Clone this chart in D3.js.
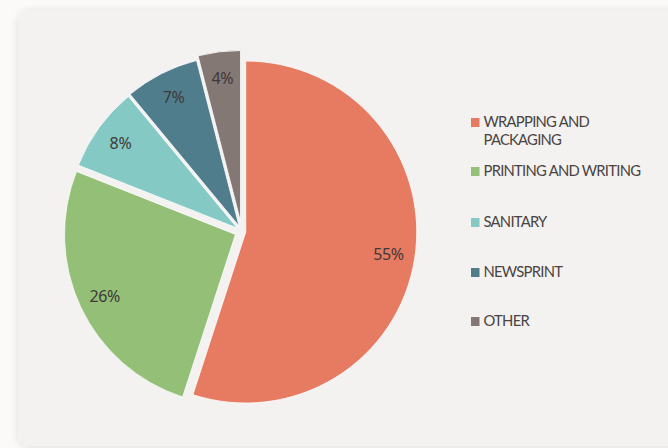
<!DOCTYPE html>
<html>
<head>
<meta charset="utf-8">
<script src="https://cdn.jsdelivr.net/npm/d3@7"></script>
<style>
  html, body { margin: 0; padding: 0; background: #fbfaf9; }
  svg { display: block; }
</style>
</head>
<body>
<svg id="chart" width="668" height="448"></svg>
<script>
// Paper consumption by grade (share of total, %)
const categories = ["WRAPPING AND PACKAGING", "PRINTING AND WRITING", "SANITARY", "NEWSPRINT", "OTHER"];
const shares = [55, 26, 8, 7, 4];
const legendLines = [["WRAPPING AND", "PACKAGING"], ["PRINTING AND WRITING"], ["SANITARY"], ["NEWSPRINT"], ["OTHER"]];

// Styling
const colors = ["#e77b61", "#93bf76", "#84c9c4", "#4f7d8c", "#847874"];
const explode = [4, 7, 5.5, 6, 10];   // radial pull-out of each wedge, px
const cx = 241.8, cy = 231.4, R = 171;

const svg = d3.select("#chart");

// card with a soft shadow
const defs = svg.append("defs");
const f = defs.append("filter").attr("id", "shadow")
  .attr("x", "-10%").attr("y", "-10%").attr("width", "120%").attr("height", "120%");
f.append("feGaussianBlur").attr("in", "SourceAlpha").attr("stdDeviation", 4).attr("result", "b");
f.append("feOffset").attr("in", "b").attr("dx", 0).attr("dy", 1).attr("result", "o");
f.append("feComponentTransfer").attr("in", "o").attr("result", "s")
  .append("feFuncA").attr("type", "linear").attr("slope", 0.12);
const m = f.append("feMerge");
m.append("feMergeNode").attr("in", "s");
m.append("feMergeNode").attr("in", "SourceGraphic");

svg.append("rect")
  .attr("x", 18).attr("y", 10)
  .attr("width", 720).attr("height", 436)
  .attr("rx", 12).attr("ry", 12)
  .attr("fill", "#f3f2f0")
  .attr("filter", "url(#shadow)");

// pie
const pie = d3.pie().sort(null).value(d => d).startAngle(0).endAngle(2 * Math.PI);
const arcs = pie(shares);
const arc = d3.arc().innerRadius(0).outerRadius(R);
const labelArc = d3.arc().innerRadius(R * 0.845).outerRadius(R * 0.845);

const g = svg.append("g").attr("transform", `translate(${cx},${cy})`);

const slices = g.selectAll("g.slice")
  .data(arcs)
  .join("g")
  .attr("class", "slice")
  .attr("transform", (d, i) => {
    const a = (d.startAngle + d.endAngle) / 2;
    return `translate(${Math.sin(a) * explode[i]},${-Math.cos(a) * explode[i]})`;
  });

slices.append("path")
  .attr("d", arc)
  .attr("fill", (d, i) => colors[i])
  .attr("stroke", "#ffffff")
  .attr("stroke-width", 0.8);

slices.append("text")
  .attr("transform", d => `translate(${labelArc.centroid(d)})`)
  .attr("text-anchor", "middle")
  .attr("dy", "0.36em")
  .attr("font-family", "'Noto Sans', sans-serif")
  .attr("font-size", 16)
  .attr("letter-spacing", -0.4)
  .attr("fill", "#3f3939")
  .text(d => d.data + "%");

// legend
const legendX = 471, legendBaselines = [127, 176, 227, 277, 326];
const lg = svg.append("g");
categories.forEach((c, i) => {
  const item = lg.append("g").attr("transform", `translate(${legendX},${legendBaselines[i]})`);
  item.append("rect")
    .attr("x", 0).attr("y", -9)
    .attr("width", 8.5).attr("height", 9)
    .attr("fill", colors[i]);
  legendLines[i].forEach((line, k) => {
    item.append("text")
      .attr("x", 12.5).attr("y", k * 18)
      .attr("font-family", "Lato, sans-serif")
      .attr("font-size", 14.8)
      .attr("letter-spacing", -0.75)
      .attr("fill", "#4a4343")
      .text(line);
  });
});
</script>
</body>
</html>
